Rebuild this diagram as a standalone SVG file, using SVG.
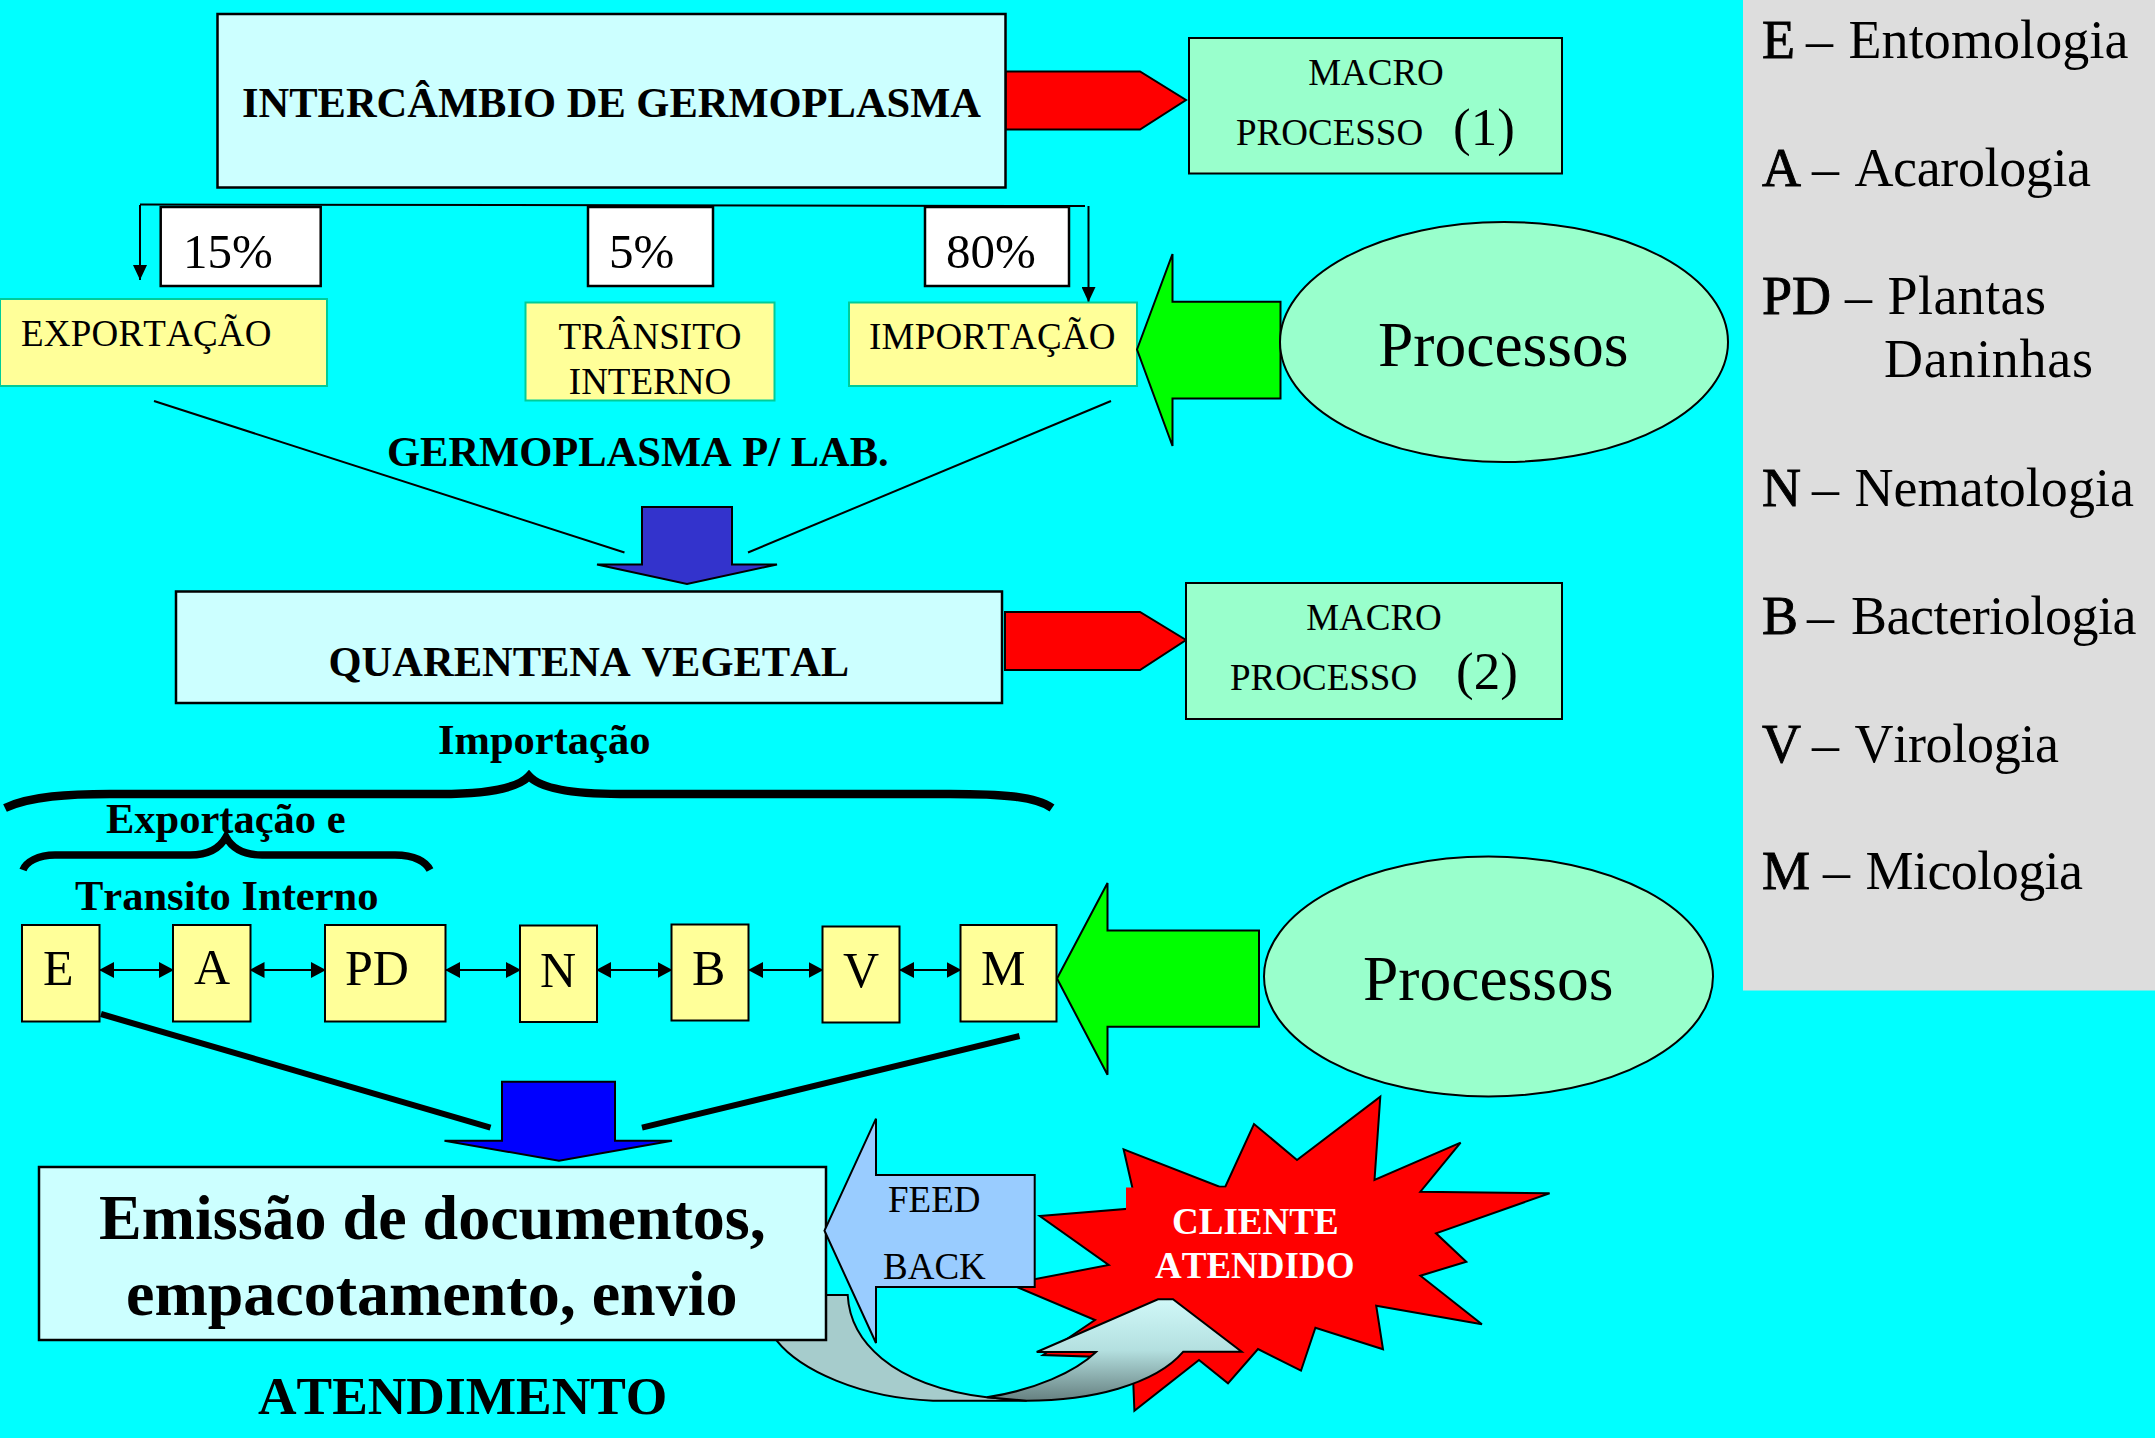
<svg xmlns="http://www.w3.org/2000/svg" width="2155" height="1438" viewBox="0 0 2155 1438">
<style>
text{font-family:"Liberation Serif","Times New Roman",serif;fill:#000;font-kerning:none}
.b{font-weight:bold}
.t37{font-size:37px}
.t42{font-size:42.5px;font-weight:bold}
.t51{font-size:50px}
.t52{font-size:53px}
.t64{font-size:63.5px}
.leg{font-size:54px}
.legk{font-size:54px;stroke:#000;stroke-width:.9px}
.macro{fill:#99ffcc;stroke:#000;stroke-width:2}
.main{fill:#ccffff;stroke:#000;stroke-width:2.5}
.white{fill:#fff;stroke:#000;stroke-width:2.5}
.yl{fill:#ffff99;stroke:#00cc99;stroke-width:2}
.cell{fill:#ffff99;stroke:#000;stroke-width:2}
.ln{fill:none;stroke:#000;stroke-width:2}
.thick{fill:none;stroke:#000;stroke-width:6}
.brace{fill:none;stroke:#000;stroke-width:8.5}
</style>
<defs>
<marker id="ah" viewBox="0 0 15 14" refX="15" refY="7" markerWidth="15" markerHeight="14" markerUnits="userSpaceOnUse" orient="auto"><path d="M0 0L15 7L0 14Z" fill="#000"/></marker>
<marker id="dh" viewBox="0 0 15 16" refX="14" refY="8" markerWidth="15" markerHeight="16" markerUnits="userSpaceOnUse" orient="auto-start-reverse"><path d="M0 0L15 8L0 16Z" fill="#000"/></marker>
<linearGradient id="cg" x1="0" y1="0" x2="0" y2="1"><stop offset="0" stop-color="#d0f8f8"/><stop offset=".5" stop-color="#b4e0e0"/><stop offset="1" stop-color="#668080"/></linearGradient>
</defs>
<rect width="2155" height="1438" fill="#00ffff"/>
<g id="legend">
<rect x="1743" y="0" width="412" height="990.5" fill="#dddddd"/>
<text x="1762" y="58" class="legk">E</text><text x="1806" y="58" class="leg">–</text><text x="1848.5" y="58" class="leg" textLength="280">Entomologia</text>
<text x="1762" y="186" class="legk">A</text><text x="1812" y="186" class="leg">–</text><text x="1854.5" y="186" class="leg" textLength="236.5">Acarologia</text>
<text x="1762" y="314" class="legk">PD</text><text x="1845" y="314" class="leg">–</text><text x="1887.5" y="314" class="leg" textLength="158.5">Plantas</text>
<text x="1884" y="377" class="leg" textLength="209">Daninhas</text>
<text x="1762" y="506" class="legk">N</text><text x="1812" y="506" class="leg">–</text><text x="1854.5" y="506" class="leg" textLength="279.5">Nematologia</text>
<text x="1762" y="634" class="legk">B</text><text x="1807" y="634" class="leg">–</text><text x="1851" y="634" class="leg" textLength="285.5">Bacteriologia</text>
<text x="1762" y="762" class="legk">V</text><text x="1812" y="762" class="leg">–</text><text x="1854.5" y="762" class="leg" textLength="204.5">Virologia</text>
<text x="1762" y="889" class="legk">M</text><text x="1823" y="889" class="leg">–</text><text x="1865.5" y="889" class="leg" textLength="217.5">Micologia</text>
</g>
<g id="connectors">
<path class="ln" stroke-width="2.5" d="M140 204.5L1085 206"/>
<path class="ln" d="M140 205V280" marker-end="url(#ah)"/>
<path class="ln" d="M1088.5 206V302" marker-end="url(#ah)"/>
<path class="ln" d="M154 401L624.5 552.5"/>
<path class="ln" d="M1111 401L748 552.5"/>
<path class="thick" d="M101 1014L490.5 1127.7"/>
<path class="thick" d="M1019.5 1036L642 1127.7"/>
<path class="ln" d="M100 970H173" marker-start="url(#dh)" marker-end="url(#dh)"/>
<path class="ln" d="M250.5 970H325" marker-start="url(#dh)" marker-end="url(#dh)"/>
<path class="ln" d="M446 970H520" marker-start="url(#dh)" marker-end="url(#dh)"/>
<path class="ln" d="M597 970H671.5" marker-start="url(#dh)" marker-end="url(#dh)"/>
<path class="ln" d="M749 970H822.5" marker-start="url(#dh)" marker-end="url(#dh)"/>
<path class="ln" d="M900 970H960.5" marker-start="url(#dh)" marker-end="url(#dh)"/>
<path class="brace" d="M5 808C30 796 70 794 110 794H440C490 794 518 788 529 776C540 788 570 794 620 794H950C1000 794 1035 796 1052 808"/>
<path class="brace" style="stroke-width:7.5" d="M23 870C26 862 38 855 55 855H190C208 855 220 848 226 837C232 848 244 855 262 855H395C415 855 426 862 430 870"/>
</g>
<g id="arrow-macro-1"><path d="M1005.5 71.5H1140L1186 100L1140 129.5H1005.5Z" fill="#ff0000" stroke="#000" stroke-width="2"/></g>
<g id="arrow-macro-2"><path d="M1005 612H1140L1186 640L1140 670H1005Z" fill="#ff0000" stroke="#000" stroke-width="2"/></g>
<g id="intercambio"><rect x="217.5" y="14" width="788" height="173.5" class="main"/>
<text x="242" y="117" class="t42">INTERCÂMBIO DE GERMOPLASMA</text></g>
<g id="macro-1"><rect x="1189" y="38" width="373" height="135.5" class="macro"/>
<text x="1376" y="85" class="t37" text-anchor="middle">MACRO</text><text x="1236" y="145" class="t37">PROCESSO</text><text x="1453" y="145" class="t52">(1)</text></g>
<g id="pct-15"><rect x="160.7" y="207" width="160" height="79" class="white"/><text x="183" y="267.5" font-size="49">15%</text></g>
<g id="pct-5"><rect x="588" y="207" width="125" height="79" class="white"/><text x="609" y="267.5" font-size="49">5%</text></g>
<g id="pct-80"><rect x="925" y="207" width="144" height="79" class="white"/><text x="946" y="267.5" font-size="49">80%</text></g>
<g id="exportacao"><rect x="0" y="299" width="327" height="87" class="yl"/><text x="21" y="346" class="t37" textLength="250.5">EXPORTAÇÃO</text></g>
<g id="transito"><rect x="525.5" y="302.5" width="249" height="98" class="yl"/><text x="650" y="349" class="t37" text-anchor="middle">TRÂNSITO</text><text x="650" y="394" class="t37" text-anchor="middle">INTERNO</text></g>
<g id="importacao"><rect x="849" y="302.5" width="288" height="83.5" class="yl"/><text x="869" y="349" class="t37" textLength="246.5">IMPORTAÇÃO</text></g>
<g id="arrow-green-1"><path d="M1137 349.5L1172.5 254V301.7H1280.5V398.6H1172.5V446Z" fill="#00ff00" stroke="#000" stroke-width="2"/></g>
<g id="processos-1"><ellipse cx="1504" cy="342" rx="224" ry="120" class="macro"/><text x="1378" y="365.5" class="t64">Processos</text></g>
<g id="germoplasma-lab"><text x="387" y="466" class="t42">GERMOPLASMA P/ LAB.</text></g>
<g id="arrow-blue-1"><path d="M642 507H732V564.5H777L687 584L597 564.5H642Z" fill="#3333cc" stroke="#000" stroke-width="2"/></g>
<g id="quarentena"><rect x="176" y="591.5" width="826" height="111.5" class="main"/><text x="328.5" y="675.5" class="t42">QUARENTENA VEGETAL</text></g>
<g id="macro-2"><rect x="1186" y="583" width="376" height="136" class="macro"/>
<text x="1374" y="630" class="t37" text-anchor="middle">MACRO</text><text x="1230" y="690" class="t37">PROCESSO</text><text x="1456" y="689" class="t52">(2)</text></g>
<g id="label-importacao"><text x="438" y="754" class="t42">Importação</text></g>
<g id="label-exportacao"><text x="106" y="833" class="t42">Exportação e</text></g>
<g id="label-transito"><text x="75" y="910" class="t42">Transito Interno</text></g>
<g id="cell-E"><rect x="22" y="925" width="77.5" height="96.5" class="cell"/><text x="43" y="985" class="t51">E</text></g>
<g id="cell-A"><rect x="173" y="925" width="77.5" height="96.5" class="cell"/><text x="194" y="983.5" class="t51">A</text></g>
<g id="cell-PD"><rect x="325" y="925" width="120.5" height="96.5" class="cell"/><text x="345" y="985" class="t51">PD</text></g>
<g id="cell-N"><rect x="520" y="925.5" width="77" height="96.5" class="cell"/><text x="540" y="986.5" class="t51">N</text></g>
<g id="cell-B"><rect x="671.5" y="924.5" width="77" height="96" class="cell"/><text x="692" y="985" class="t51">B</text></g>
<g id="cell-V"><rect x="822.5" y="926.5" width="77" height="96" class="cell"/><text x="843" y="986.5" class="t51">V</text></g>
<g id="cell-M"><rect x="960.5" y="925" width="96" height="96.5" class="cell"/><text x="981" y="985" class="t51">M</text></g>
<g id="arrow-green-2"><path d="M1057 978.5L1107.5 883V930.5H1259V1026.7H1107.5V1074.8Z" fill="#00ff00" stroke="#000" stroke-width="2"/></g>
<g id="processos-2"><ellipse cx="1488.5" cy="976.5" rx="224.5" ry="120" class="macro"/><text x="1363" y="1000" class="t64">Processos</text></g>
<g id="arrow-blue-2"><path d="M502 1081.7H615V1140.7H672L559 1160.7L444.5 1140.7H502Z" fill="#0000ff" stroke="#000" stroke-width="2"/></g>
<g id="cliente"><path d="M1039.8 1216L1137 1208L1123.6 1149.3L1219.5 1186.7L1225.3 1186.7L1254 1124L1297 1160L1380.3 1096.7L1374.5 1180L1460.6 1142.7L1420.4 1191.7L1549.6 1193.3L1436 1233.3L1466.3 1261.7L1420.4 1275.7L1481.9 1324.3L1376.2 1305.7L1383 1349.3L1315.4 1327.7L1301 1370.7L1258 1349L1228 1383.3L1199 1360L1134.4 1410.7L1132.3 1358L1043 1355L1095 1320L1010 1284L1108.7 1265Z" fill="#ff0000" stroke="#000" stroke-width="2"/>
<rect x="1126" y="1187.5" width="275" height="108" fill="#ff0000"/>
<text x="1172" y="1234" font-size="37" class="b" style="fill:#fff">CLIENTE</text><text x="1155" y="1278" font-size="37" class="b" style="fill:#fff">ATENDIDO</text></g>
<g id="arrow-curved"><path d="M826 1295H847.7C850 1340 890 1385 986.7 1397.3L1026.7 1400.7H933C860 1398 800 1370 776.7 1340.7Z" fill="#a6cccc" stroke="#000" stroke-width="2"/>
<path d="M1036.7 1352L1158 1299.3H1173L1241.7 1351.7H1183.3C1155 1385 1090 1400.7 1026.7 1400.7L986.7 1397.3C1035 1390 1075 1372 1096 1352Z" fill="url(#cg)" stroke="#000" stroke-width="2"/></g>
<g id="emissao"><rect x="39" y="1167" width="787" height="173" class="main"/>
<text x="99" y="1239" font-size="64" class="b">Emissão de documentos,</text><text x="126" y="1315" font-size="64" class="b">empacotamento, envio</text></g>
<g id="atendimento"><text x="258" y="1414" font-size="53.4" class="b">ATENDIMENTO</text></g>
<g id="feedback"><path d="M824.5 1230.7L876 1118.7V1175H1034.7V1287H876V1343Z" fill="#99ccff" stroke="#000" stroke-width="2"/>
<text x="888" y="1212" class="t37">FEED</text><text x="883" y="1279" class="t37">BACK</text></g>
</svg>
